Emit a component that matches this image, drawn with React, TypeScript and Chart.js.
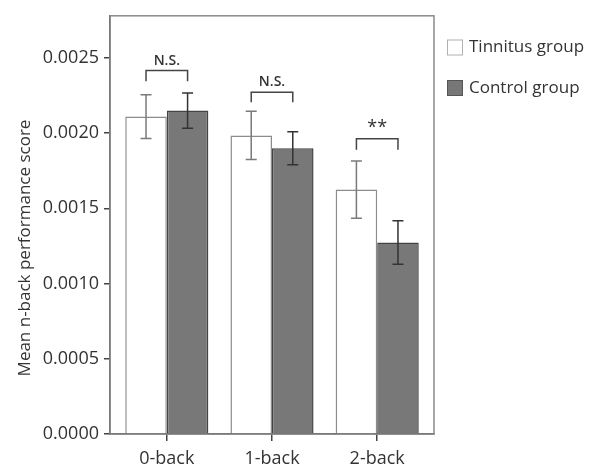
import React, { useEffect, useRef } from "react";
import { Chart, registerables } from "chart.js";

Chart.register(...registerables);

const categories = ["0-back", "1-back", "2-back"];
const tinnitusMean = [0.00211, 0.001985, 0.001625];
const tinnitusErr = [0.000145, 0.00016, 0.00019];
const controlMean = [0.00215, 0.0019, 0.001273];
const controlErr = [0.000117, 0.00011, 0.000144];
const sigLabels = ["N.S.", "N.S.", "**"];
const sigTop = [0.002416, 0.002272, 0.001963];
const sigLegBottom = [0.002345, 0.002206, 0.00189];
const seriesNames = ["Tinnitus group", "Control group"];
const yTickStep = 0.0005;
const yMax = 0.00278;
const yTitle = "Mean n-back performance score";

const FONT = "'Open Sans', 'Noto Sans', sans-serif";
const TEXT = "#333333";

const decorPlugin = {
  id: "decor",
  beforeDatasetsDraw(chart: any) {
    const { ctx, chartArea } = chart;
    ctx.save();
    ctx.strokeStyle = "#8a8a8a";
    ctx.lineWidth = 1.5;
    ctx.strokeRect(chartArea.left, chartArea.top, chartArea.right - chartArea.left, chartArea.bottom - chartArea.top);
    ctx.restore();
  },
  afterDatasetsDraw(chart: any) {
    const { ctx } = chart;
    const y = chart.scales.y;
    const errs = [tinnitusErr, controlErr];
    const means = [tinnitusMean, controlMean];
    const errColors = ["#7a7a7a", "#333333"];
    ctx.save();
    ctx.lineWidth = 1.5;
    for (let d = 0; d < 2; d++) {
      const meta = chart.getDatasetMeta(d);
      meta.data.forEach((bar: any, i: number) => {
        const x = bar.x;
        const yt = y.getPixelForValue(means[d][i] + errs[d][i]);
        const yb = y.getPixelForValue(means[d][i] - errs[d][i]);
        ctx.strokeStyle = errColors[d];
        ctx.beginPath();
        ctx.moveTo(x, yt);
        ctx.lineTo(x, yb);
        ctx.moveTo(x - 5.5, yt);
        ctx.lineTo(x + 5.5, yt);
        ctx.moveTo(x - 5.5, yb);
        ctx.lineTo(x + 5.5, yb);
        ctx.stroke();
      });
    }
    const m0 = chart.getDatasetMeta(0);
    const m1 = chart.getDatasetMeta(1);
    ctx.strokeStyle = "#444444";
    ctx.fillStyle = TEXT;
    ctx.textAlign = "center";
    ctx.textBaseline = "alphabetic";
    categories.forEach((_, i) => {
      const x0 = m0.data[i].x;
      const x1 = m1.data[i].x;
      const yt = y.getPixelForValue(sigTop[i]);
      const yl = y.getPixelForValue(sigLegBottom[i]);
      ctx.beginPath();
      ctx.moveTo(x0, yl);
      ctx.lineTo(x0, yt);
      ctx.lineTo(x1, yt);
      ctx.lineTo(x1, yl);
      ctx.stroke();
      const lab = sigLabels[i];
      ctx.font = lab === "**" ? `18px ${FONT}` : `600 14px ${FONT}`;
      ctx.fillText(lab, (x0 + x1) / 2, yt - 6);
    });
    ctx.restore();
  },
  afterDraw(chart: any) {
    const { ctx, chartArea } = chart;
    ctx.save();
    ctx.fillStyle = TEXT;
    ctx.font = `17px ${FONT}`;
    ctx.textAlign = "center";
    ctx.textBaseline = "middle";
    ctx.translate(25, 248);
    ctx.rotate(-Math.PI / 2);
    ctx.fillText(yTitle, 0, 0);
    ctx.restore();
    ctx.save();
    const lx = chartArea.right + 13;
    const fills = ["#ffffff", "#777777"];
    const strokes = ["#b0b0b0", "#555555"];
    ctx.font = `17px ${FONT}`;
    ctx.textAlign = "left";
    ctx.textBaseline = "middle";
    seriesNames.forEach((name, i) => {
      const top = 39.5 + i * 40.5;
      ctx.fillStyle = fills[i];
      ctx.fillRect(lx, top, 16, 16);
      ctx.strokeStyle = strokes[i];
      ctx.lineWidth = 1;
      ctx.strokeRect(lx + 0.5, top + 0.5, 15, 15);
      ctx.fillStyle = TEXT;
      ctx.fillText(name, lx + 22, top + 8);
    });
    ctx.restore();
  },
};

export default function App() {
  const ref = useRef<HTMLCanvasElement>(null);
  useEffect(() => {
    if (!ref.current) return;
    const chart = new Chart(ref.current, {
      type: "bar",
      data: {
        datasets: [
          {
            label: seriesNames[0],
            data: categories.map((_, i) => ({ x: i, y: tinnitusMean[i] })),
            backgroundColor: "#ffffff",
            borderColor: "#8c8c8c",
            borderWidth: 1.5,
          },
          {
            label: seriesNames[1],
            data: categories.map((_, i) => ({ x: i, y: controlMean[i] })),
            backgroundColor: "#787878",
            borderColor: "#444444",
            borderWidth: 1.5,
          },
        ] as any,
      },
      options: {
        animation: false,
        responsive: false,
        maintainAspectRatio: false,
        layout: { padding: { top: 15, right: 163, left: 0, bottom: 0 } },
        datasets: { bar: { categoryPercentage: 0.79, barPercentage: 1 } } as any,
        plugins: { legend: { display: false }, tooltip: { enabled: false } },
        scales: {
          x: {
            type: "linear",
            min: -0.54,
            max: 2.54,
            offset: false,
            afterBuildTicks: (scale: any) => {
              scale.ticks = categories.map((_, i) => ({ value: i }));
            },
            afterFit: (scale: any) => {
              scale.height = 33;
            },
            grid: { display: true, offset: false, drawOnChartArea: false, drawTicks: true, tickLength: 7, color: "#444444", lineWidth: 1.5 },
            border: { display: true, color: "#444444", width: 1.5 },
            ticks: {
              padding: 7,
              color: TEXT,
              font: { family: FONT, size: 18 },
              callback: (v: any) => categories[v] ?? "",
            },
          },
          y: {
            min: 0,
            max: yMax,
            afterFit: (scale: any) => {
              scale.width = 110;
            },
            grid: { display: true, drawOnChartArea: false, drawTicks: true, tickLength: 6, color: "#444444", lineWidth: 1.5 },
            border: { display: true, color: "#444444", width: 1.5 },
            ticks: {
              stepSize: yTickStep,
              includeBounds: false,
              padding: 5,
              color: TEXT,
              font: { family: FONT, size: 18 },
              callback: (v: any) => Number(v).toFixed(4),
            },
          },
        },
      } as any,
      plugins: [decorPlugin],
    });
    return () => chart.destroy();
  }, []);
  return (
    <div style={{ position: "fixed", left: 0, top: 0, width: 597, height: 467, background: "#fff" }}>
      <canvas ref={ref} width={597} height={467} style={{ width: 597, height: 467 }} />
    </div>
  );
}
